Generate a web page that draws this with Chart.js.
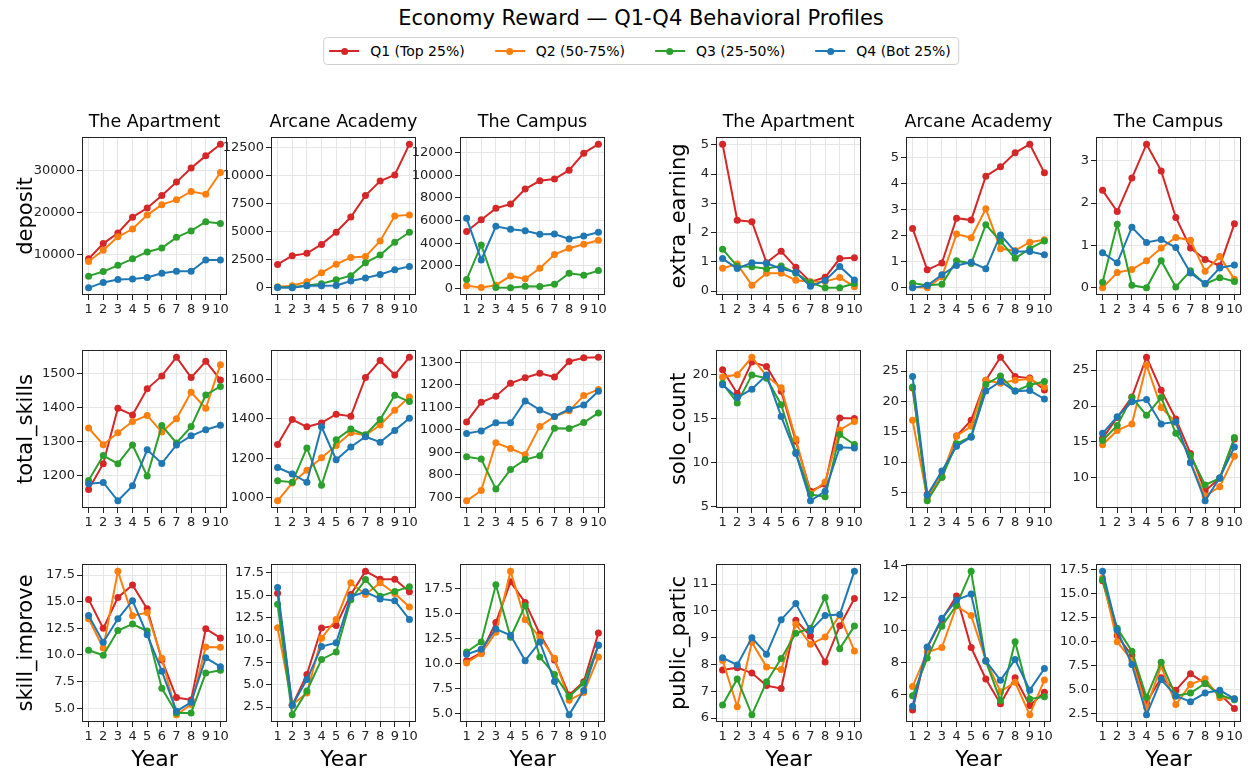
<!DOCTYPE html>
<html>
<head>
<meta charset="utf-8">
<script src="https://cdn.jsdelivr.net/npm/chart.js@4.4.1/dist/chart.umd.min.js"></script>
<style>
html,body{margin:0;padding:0;background:#fff;overflow:hidden;}
#fig{position:relative;width:1248px;height:774px;font-family:"DejaVu Sans",sans-serif;color:#000;}
#suptitle{position:absolute;left:641px;top:5px;transform:translateX(-50%);font-size:21px;line-height:26px;white-space:nowrap;}
#legend{position:absolute;left:641px;top:37px;height:28px;transform:translateX(-50%);display:flex;align-items:center;border:1px solid #d0d0d0;border-radius:4px;padding:0 7px 0 5px;box-sizing:border-box;white-space:nowrap;background:#fff;}
.item{display:flex;align-items:center;margin-right:30px;font-size:14px;line-height:17px;}
.item:last-child{margin-right:0;}
.handle{position:relative;width:30px;height:2px;margin-right:11px;}
.dot{position:absolute;left:11.5px;top:-2.5px;width:7px;height:7px;border-radius:50%;}
canvas{position:absolute;}
</style>
</head>
<body>
<div id="fig">
  <div id="suptitle">Economy Reward — Q1-Q4 Behavioral Profiles</div>
  <div id="legend"></div>
</div>
<script>
// ---------- categories / labels ----------
const years = [1, 2, 3, 4, 5, 6, 7, 8, 9, 10];
const quartiles = ['Q1 (Top 25%)', 'Q2 (50-75%)', 'Q3 (25-50%)', 'Q4 (Bot 25%)'];
const worlds = ['The Apartment', 'Arcane Academy', 'The Campus'];
const leftMetrics = ['deposit', 'total_skills', 'skill_improve'];
const rightMetrics = ['extra_earning', 'solo_count', 'public_partic'];

// ---------- series values: [Q1, Q2, Q3, Q4] ----------
const depositApartment = [
  [8900, 12550, 15100, 18900, 21100, 24100, 27300, 30700, 33600, 36400],
  [8250, 10950, 14200, 16050, 19400, 21900, 23050, 25050, 24400, 29600],
  [4750, 5850, 7350, 8900, 10550, 11500, 14050, 15600, 17800, 17350],
  [1950, 3250, 3950, 4050, 4450, 5450, 5950, 5900, 8650, 8650]
];
const depositArcane = [
  [2080, 2860, 3070, 3870, 4950, 6310, 8220, 9520, 10060, 12800],
  [90, 180, 540, 1340, 2100, 2710, 2780, 4180, 6400, 6500],
  [60, 60, 210, 360, 720, 1080, 2240, 2920, 4060, 4950],
  [30, 0, 180, 180, 200, 600, 870, 1190, 1610, 1910]
];
const depositCampus = [
  [5020, 6070, 7070, 7450, 8770, 9500, 9650, 10440, 11940, 12730],
  [240, 90, 290, 1110, 850, 1790, 2990, 3550, 3900, 4250],
  [790, 3840, 90, 60, 200, 180, 380, 1350, 1170, 1580],
  [6190, 2520, 5480, 5220, 5100, 4780, 4810, 4370, 4630, 4960]
];
const extraApartment = [
  [5.02, 2.42, 2.37, 0.97, 1.36, 0.81, 0.31, 0.47, 1.11, 1.14],
  [0.78, 0.92, 0.20, 0.61, 0.61, 0.37, 0.32, 0.33, 0.46, 0.15],
  [1.43, 0.85, 0.83, 0.76, 0.86, 0.61, 0.29, 0.11, 0.11, 0.26],
  [1.11, 0.77, 0.97, 0.95, 0.76, 0.64, 0.16, 0.36, 0.84, 0.38]
];
const extraArcane = [
  [2.28, 0.69, 0.95, 2.67, 2.60, 4.28, 4.64, 5.18, 5.51, 4.41],
  [0.03, 0.00, 0.42, 2.06, 1.92, 3.03, 1.50, 1.43, 1.75, 1.84],
  [0.18, 0.10, 0.14, 1.04, 0.93, 2.42, 1.79, 1.13, 1.50, 1.80],
  [0.00, 0.09, 0.50, 0.86, 0.98, 0.73, 2.03, 1.39, 1.39, 1.27]
];
const extraCampus = [
  [2.30, 1.80, 2.59, 3.39, 2.76, 1.66, 0.94, 0.67, 0.52, 1.51],
  [0.00, 0.36, 0.43, 0.64, 0.94, 1.19, 1.12, 0.39, 0.74, 0.20],
  [0.13, 1.50, 0.06, 0.00, 0.64, 0.02, 0.40, 0.09, 0.24, 0.15],
  [0.83, 0.59, 1.43, 1.07, 1.14, 0.95, 0.35, 0.10, 0.47, 0.54]
];
const totalApartment = [
  [1159, 1235, 1398, 1378, 1455, 1493, 1548, 1488, 1536, 1481],
  [1340, 1291, 1326, 1359, 1377, 1328, 1367, 1445, 1398, 1526],
  [1186, 1259, 1235, 1290, 1199, 1347, 1296, 1344, 1437, 1462],
  [1176, 1180, 1126, 1170, 1276, 1236, 1290, 1317, 1335, 1348]
];
const totalArcane = [
  [1271, 1397, 1360, 1380, 1424, 1414, 1610, 1696, 1623, 1713],
  [985, 1075, 1140, 1203, 1265, 1330, 1317, 1369, 1444, 1511],
  [1087, 1079, 1253, 1064, 1295, 1349, 1320, 1397, 1520, 1488],
  [1154, 1121, 1079, 1360, 1193, 1258, 1310, 1282, 1342, 1404]
];
const totalCampus = [
  [1035, 1122, 1149, 1206, 1231, 1251, 1234, 1303, 1319, 1322],
  [685, 731, 942, 917, 889, 1015, 1059, 1084, 1152, 1179],
  [880, 870, 737, 824, 868, 885, 1007, 1006, 1032, 1075],
  [984, 995, 1031, 1031, 1128, 1088, 1059, 1091, 1110, 1171]
];
const soloApartment = [
  [20.56, 17.86, 21.43, 20.94, 18.12, 12.44, 6.77, 7.56, 15.08, 15.04],
  [19.74, 20.00, 21.99, 19.85, 18.53, 12.70, 6.50, 7.82, 13.72, 14.70],
  [19.02, 16.80, 19.96, 19.60, 16.60, 11.20, 6.40, 6.13, 13.20, 12.07],
  [18.87, 17.40, 18.35, 19.96, 15.26, 11.05, 5.68, 6.77, 11.77, 11.69]
];
const soloArcane = [
  [22.2, 4.67, 7.5, 14.3, 16.9, 23.5, 27.3, 24.1, 23.85, 21.9],
  [16.9, 4.0, 7.8, 14.3, 15.9, 23.5, 23.0, 23.5, 23.7, 22.4],
  [22.4, 3.6, 7.5, 13.0, 14.2, 22.8, 24.2, 21.7, 22.7, 23.3],
  [24.1, 4.5, 8.5, 12.6, 14.1, 21.7, 23.3, 21.7, 21.8, 20.4]
];
const soloCampus = [
  [15.5, 18.4, 21.25, 26.8, 22.2, 18.2, 13.4, 8.2, 9.95, 15.4],
  [14.6, 16.6, 17.5, 25.7, 19.8, 17.7, 12.2, 7.5, 8.75, 13.0],
  [15.2, 17.3, 21.2, 18.7, 21.2, 16.2, 13.1, 9.0, 9.95, 15.6],
  [16.2, 18.5, 20.6, 20.9, 17.5, 17.8, 12.1, 6.8, 10.0, 14.3]
];
const skillApartment = [
  [15.22, 12.5, 15.4, 16.57, 14.33, 9.53, 6.0, 5.78, 12.46, 11.6],
  [13.4, 10.65, 17.87, 13.68, 13.98, 9.7, 4.38, 5.35, 10.75, 10.72],
  [10.44, 9.97, 12.3, 12.9, 12.25, 6.87, 4.56, 4.56, 8.3, 8.57],
  [13.7, 11.2, 13.4, 15.1, 11.9, 8.48, 4.72, 5.56, 9.73, 8.9]
];
const skillArcane = [
  [15.24, 2.69, 6.15, 11.33, 11.63, 15.1, 17.7, 16.8, 16.8, 15.4],
  [11.37, 2.76, 4.06, 10.2, 12.3, 16.4, 15.1, 16.4, 15.2, 13.7],
  [14.0, 1.63, 4.3, 7.83, 8.65, 14.5, 16.76, 14.9, 15.44, 15.96],
  [15.87, 2.69, 5.57, 9.27, 9.7, 14.85, 15.4, 14.6, 14.4, 12.3]
];
const skillCampus = [
  [10.3, 11.07, 14.1, 18.16, 16.1, 12.96, 10.36, 6.87, 8.2, 13.06],
  [10.07, 11.0, 13.13, 19.22, 14.38, 12.63, 10.53, 6.36, 7.12, 10.66],
  [11.16, 12.17, 17.86, 12.63, 15.78, 10.66, 8.93, 6.72, 8.05, 11.8],
  [10.93, 11.43, 13.46, 12.83, 10.3, 12.16, 8.23, 4.9, 7.32, 11.86]
];
const publicApartment = [
  [7.79, 7.88, 7.68, 7.21, 7.1, 9.65, 9.06, 8.09, 9.44, 10.46],
  [8.15, 6.42, 8.83, 7.9, 7.81, 9.5, 8.75, 9.02, 9.84, 8.5],
  [6.49, 7.46, 6.12, 7.35, 8.22, 9.16, 9.35, 10.5, 8.59, 9.43],
  [8.25, 7.98, 9.0, 8.38, 9.67, 10.27, 9.26, 9.83, 9.86, 11.48]
];
const publicArcane = [
  [5.06, 8.92, 10.65, 12.1, 8.92, 6.98, 5.45, 7.06, 5.35, 6.16],
  [6.51, 8.64, 8.92, 11.48, 10.89, 8.14, 6.2, 6.78, 4.77, 6.92],
  [5.94, 8.27, 10.24, 11.53, 13.63, 8.08, 5.65, 9.28, 5.75, 5.88],
  [5.3, 8.96, 10.72, 11.85, 12.22, 8.1, 6.9, 8.18, 6.29, 7.63]
];
const publicCampus = [
  [16.3, 10.6, 8.5, 3.6, 6.2, 4.9, 6.6, 5.6, 4.5, 3.0],
  [16.6, 9.95, 8.0, 3.1, 7.4, 3.4, 5.5, 6.1, 4.1, 4.0],
  [16.4, 11.35, 8.96, 4.15, 7.8, 4.3, 4.6, 5.6, 4.4, 3.9],
  [17.3, 11.15, 7.57, 2.33, 6.0, 4.3, 3.7, 4.6, 4.9, 4.0]
];

// y tick steps per panel, rows x columns (left group then right group)
const yTickSteps = [
  [10000, 2500, 2000, 1, 1, 1],
  [100, 200, 100, 5, 5, 5],
  [2.5, 2.5, 2.5, 1, 2, 2.5]
];

// ---------- styling / layout ----------
const colors = ['#d62728', '#ff7f0e', '#2ca02c', '#1f77b4'];
const FONT = "'DejaVu Sans', sans-serif";
const colLefts = [82, 271, 460, 716, 906, 1096];
const rowTops = [137, 350, 564];
const PW = 145, PH = 158;

Chart.defaults.font.family = FONT;
Chart.defaults.color = '#000';

// legend (HTML)
const legendEl = document.getElementById('legend');
quartiles.forEach((q, i) => {
  const item = document.createElement('div');
  item.className = 'item';
  const h = document.createElement('div');
  h.className = 'handle';
  h.style.background = colors[i];
  const d = document.createElement('div');
  d.className = 'dot';
  d.style.background = colors[i];
  h.appendChild(d);
  const t = document.createElement('span');
  t.textContent = q;
  item.appendChild(h);
  item.appendChild(t);
  legendEl.appendChild(item);
});

const frame = {
  id: 'frame',
  afterDraw(chart) {
    const {ctx, chartArea: a} = chart;
    ctx.save();
    ctx.strokeStyle = '#222';
    ctx.lineWidth = 1;
    ctx.strokeRect(Math.round(a.left) + 0.5, Math.round(a.top) + 0.5,
                   Math.round(a.right - a.left) - 1, Math.round(a.bottom - a.top) - 1);
    ctx.restore();
  }
};

const panelTitle = {
  id: 'panelTitle',
  afterDraw(chart, args, opts) {
    if (!opts || !opts.text) return;
    const {ctx, chartArea: a} = chart;
    ctx.save();
    ctx.font = '17.5px ' + FONT;
    ctx.fillStyle = '#000';
    ctx.textAlign = 'center';
    ctx.textBaseline = 'middle';
    ctx.fillText(opts.text, (a.left + a.right) / 2, a.top - 15);
    ctx.restore();
  }
};

const panelData = [
  [depositApartment, depositArcane, depositCampus, extraApartment, extraArcane, extraCampus],
  [totalApartment, totalArcane, totalCampus, soloApartment, soloArcane, soloCampus],
  [skillApartment, skillArcane, skillCampus, publicApartment, publicArcane, publicCampus]
];

const fig = document.getElementById('fig');

for (let r = 0; r < 3; r++) {
  for (let c = 0; c < 6; c++) {
    const series = panelData[r][c];
    const step = yTickSteps[r][c];
    const isFirst = (c === 0 || c === 3);
    const metric = c < 3 ? leftMetrics[r] : rightMetrics[r];
    const world = worlds[c % 3];
    const yW = c === 0 ? 68 : (c === 3 ? 49 : 55);
    const padTop = r === 0 ? 30 : 10;
    const xH = r === 2 ? 51 : 30;
    const W = yW + PW + 12;
    const H = padTop + PH + xH;

    const all = series.flat();
    const dmin = Math.min(...all), dmax = Math.max(...all);
    const rng = dmax - dmin;
    const ymin = dmin - 0.05 * rng, ymax = dmax + 0.05 * rng;
    const dec = (step % 1 !== 0) ? 1 : 0;

    const cv = document.createElement('canvas');
    cv.width = W; cv.height = H;
    cv.style.left = (colLefts[c] - yW) + 'px';
    cv.style.top = (rowTops[r] - padTop) + 'px';
    cv.style.width = W + 'px'; cv.style.height = H + 'px';
    fig.appendChild(cv);

    const datasets = series.map((vals, i) => ({
      label: quartiles[i],
      data: years.map((yr, k) => ({x: yr, y: vals[k]})),
      borderColor: colors[i],
      backgroundColor: colors[i],
      borderWidth: 2,
      pointRadius: 3.5,
      pointBorderWidth: 0,
      pointBackgroundColor: colors[i],
      tension: 0,
      order: 3 - i
    }));

    new Chart(cv, {
      type: 'line',
      data: {datasets},
      plugins: [frame, panelTitle],
      options: {
        responsive: false,
        animation: false,
        devicePixelRatio: 1,
        layout: {padding: {top: padTop, right: 12, left: 0, bottom: 0}},
        plugins: {
          legend: {display: false},
          tooltip: {enabled: false},
          title: {display: false},
          panelTitle: {text: r === 0 ? world : ''}
        },
        scales: {
          x: {
            type: 'linear',
            min: 0.55, max: 10.45,
            afterBuildTicks: ax => { ax.ticks = years.map(v => ({value: v})); },
            afterFit: s => { s.height = xH; },
            border: {display: false},
            grid: {color: '#e6e6e6', lineWidth: 1, drawTicks: true, tickLength: 5, tickColor: '#222', tickWidth: 1},
            ticks: {autoSkip: false, maxRotation: 0, minRotation: 0, padding: 2, color: '#222',
                    font: {size: 13, family: FONT}, callback: v => String(v)},
            title: {display: r === 2, text: 'Year', color: '#000',
                    font: {size: 22, family: FONT}, padding: {top: 0, bottom: 0}}
          },
          y: {
            type: 'linear',
            min: ymin, max: ymax,
            afterBuildTicks: ax => {
              const t = [];
              for (let v = Math.ceil(ymin / step) * step; v <= ymax + 1e-9; v += step) t.push({value: +v.toFixed(6)});
              ax.ticks = t;
            },
            afterFit: s => { s.width = yW; },
            border: {display: false},
            grid: {color: '#e6e6e6', lineWidth: 1, drawTicks: true, tickLength: 5, tickColor: '#222', tickWidth: 1},
            ticks: {padding: 2, color: '#222', font: {size: 13, family: FONT},
                    callback: v => Number(v).toFixed(dec)},
            title: {display: isFirst, text: metric, color: '#000',
                    font: {size: 21, family: FONT}, padding: {top: 0, bottom: 0}}
          }
        }
      }
    });
  }
}
</script>
</body>
</html>
